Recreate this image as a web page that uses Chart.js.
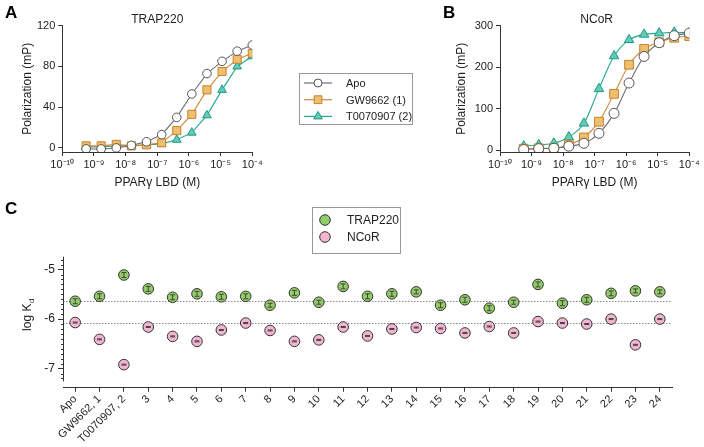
<!DOCTYPE html>
<html>
<head>
<meta charset="utf-8">
<script src="https://cdn.jsdelivr.net/npm/chart.js@4.4.1/dist/chart.umd.min.js"></script>
<style>
  html, body { margin: 0; padding: 0; background: #fff; }
  #wrap { position: relative; width: 704px; height: 447px; overflow: hidden; }
  .panel { position: absolute; }
</style>
</head>
<body>
<div id="wrap">
  <canvas id="chartA" class="panel" width="420" height="200" style="left:0;top:0"></canvas>
  <canvas id="chartB" class="panel" width="284" height="200" style="left:420px;top:0"></canvas>
  <canvas id="chartC" class="panel" width="704" height="252" style="left:0;top:195px"></canvas>
</div>
<script>
// --- data: titration (3-fold dilution of PPARy LBD, molar) ---
const concM = [1e-4, 3.33e-5, 1.11e-5, 3.70e-6, 1.23e-6, 4.12e-7, 1.37e-7, 4.57e-8, 1.52e-8, 5.08e-9, 1.69e-9, 5.65e-10];
const decades = [-10, -9, -8, -7, -6, -5, -4];

// panel A: TRAP220 polarization (mP)
const apoTrap = [101, 95, 85, 73, 53, 30, 13, 6, 2.5, 0, -1, -1];
const gwTrap  = [93, 87, 75, 57, 33, 17, 5, 3, 2, 3.5, 2, 2];
const tTrap   = [90, 80, 57, 32, 15, 8, 4, 3, 2, 2, 1, 1];
const yTicksTrap = [0, 40, 80, 120];

// panel B: NCoR polarization (mP)
const apoNcor = [282, 276, 259, 226, 162, 89, 41, 17, 10, 5, 4, 2];
const gwNcor  = [275, 271, 260, 244, 206, 136, 69, 31, 14, 5, 5, 4];
const tNcor   = [283, 284, 282, 279, 266, 227, 148, 65, 32, 17, 13, 10];
const yTicksNcor = [0, 100, 200, 300];

// panel C: log Kd per compound
const compounds = ['Apo', 'GW9662, 1', 'T0070907, 2', '3', '4', '5', '6', '7', '8', '9', '10', '11', '12',
  '13', '14', '15', '16', '17', '18', '19', '20', '21', '22', '23', '24'];
const trapKd  = [-5.64, -5.54, -5.11, -5.39, -5.56, -5.49, -5.55, -5.54, -5.72, -5.47, -5.66, -5.34, -5.54,
  -5.49, -5.45, -5.72, -5.61, -5.78, -5.66, -5.30, -5.68, -5.61, -5.48, -5.43, -5.45];
const ncorKd  = [-6.07, -6.41, -6.92, -6.16, -6.35, -6.45, -6.22, -6.08, -6.23, -6.45, -6.42, -6.16, -6.34,
  -6.20, -6.17, -6.19, -6.28, -6.15, -6.28, -6.05, -6.08, -6.10, -6.00, -6.52, -6.00];
const trapErr = [0.05, 0.05, 0.05, 0.05, 0.05, 0.05, 0.05, 0.05, 0.04, 0.05, 0.04, 0.05, 0.05,
  0.05, 0.04, 0.05, 0.05, 0.05, 0.04, 0.05, 0.05, 0.05, 0.05, 0.04, 0.04];
const ncorErr = [0.01, 0.01, 0.01, 0.01, 0.01, 0.01, 0.01, 0.01, 0.01, 0.01, 0.01, 0.01, 0.01,
  0.01, 0.01, 0.01, 0.01, 0.01, 0.01, 0.01, 0.01, 0.01, 0.01, 0.01, 0.01];
const kdTicks = [-7, -6, -5];

// --- look ---
const FONT = "'Liberation Sans', Arial, Helvetica, sans-serif";
const INK = '#222';
const AXIS = '#333';
Chart.defaults.font.family = FONT;
Chart.defaults.color = INK;
Chart.defaults.animation = false;

const series = {
  apo: { label: 'Apo', style: 'circle', line: '#707070', fill: '#ffffff', edge: '#555555' },
  gw:  { label: 'GW9662 (1)', style: 'rect', line: '#d08a3e', fill: '#efbe6e', edge: '#c5832f' },
  t:   { label: 'T0070907 (2)', style: 'triangle', line: '#22a890', fill: '#62ccb6', edge: '#1b9a83' }
};
const kdColors = {
  trap: { label: 'TRAP220', fill: '#92cc66' },
  ncor: { label: 'NCoR', fill: '#f3b6d2' }
};

const SUP = { '-': '\u207B', '0': '\u2070', '1': '\u00B9', '2': '\u00B2', '3': '\u00B3', '4': '\u2074',
  '5': '\u2075', '6': '\u2076', '7': '\u2077', '8': '\u2078', '9': '\u2079' };
const pow10Label = v => '10' + String(Math.round(Math.log10(v))).split('').map(c => SUP[c]).join('');

// marker used by the hand-drawn legends
function marker(ctx, style, x, y, r, fill, edge) {
  ctx.beginPath();
  if (style === 'rect') {
    const h = r * Math.SQRT1_2;
    ctx.rect(x - h, y - h, 2 * h, 2 * h);
  } else if (style === 'triangle') {
    ctx.moveTo(x, y - r);
    ctx.lineTo(x + r * 0.866, y + r * 0.5);
    ctx.lineTo(x - r * 0.866, y + r * 0.5);
    ctx.closePath();
  } else {
    ctx.arc(x, y, r, 0, Math.PI * 2);
  }
  ctx.fillStyle = fill;
  ctx.fill();
  ctx.strokeStyle = edge;
  ctx.lineWidth = 1;
  ctx.stroke();
}

// panel letter, panel title and optional legend box
const panelDecor = {
  id: 'panelDecor',
  afterDraw(chart, args, o) {
    const ctx = chart.ctx;
    const a = chart.chartArea;
    ctx.save();
    ctx.textBaseline = 'middle';
    if (o.letter) {
      ctx.font = 'bold 17px ' + FONT;
      ctx.fillStyle = '#000';
      ctx.textAlign = 'left';
      ctx.fillText(o.letter, o.letterX, o.letterY);
    }
    if (o.title) {
      ctx.font = '12px ' + FONT;
      ctx.fillStyle = INK;
      ctx.textAlign = 'center';
      ctx.fillText(o.title, (a.left + a.right) / 2 + (o.titleDx || 0), o.titleY);
    }
    if (o.legend) {
      const L = o.legend;
      ctx.strokeStyle = '#999';
      ctx.lineWidth = 1;
      ctx.strokeRect(L.x + 0.5, L.y + 0.5, L.w, L.h);
      ctx.font = L.font + 'px ' + FONT;
      ctx.textAlign = 'left';
      L.items.forEach((it, i) => {
        const y = L.y0 + i * L.dy;
        if (it.line) {
          ctx.beginPath();
          ctx.moveTo(L.lx0, y);
          ctx.lineTo(L.lx1, y);
          ctx.strokeStyle = it.line;
          ctx.lineWidth = 1.2;
          ctx.stroke();
        }
        marker(ctx, it.style, L.mx, y, it.r, it.fill, it.edge);
        ctx.fillStyle = INK;
        ctx.fillText(it.label, L.tx, y + 1);
      });
    }
    ctx.restore();
  }
};

function curve(s, ys, r, tension) {
  return {
    label: s.label,
    data: concM.map((x, i) => ({ x: x, y: ys[i] })),
    showLine: true,
    fill: false,
    borderColor: s.line,
    borderWidth: 1.1,
    backgroundColor: s.fill,
    pointStyle: s.style,
    pointRadius: r,
    pointBackgroundColor: s.fill,
    pointBorderColor: s.edge,
    pointBorderWidth: 1,
    tension: tension,
    cubicInterpolationMode: tension > 0 ? 'monotone' : 'default'
  };
}

function titrationScales(yMin, yMax, yTicks, yWidth, yTitlePad) {
  return {
    x: {
      type: 'logarithmic', min: 1e-10, max: 1e-4,
      afterBuildTicks: s => { s.ticks = decades.map(e => ({ value: Math.pow(10, e) })); },
      afterFit: s => { s.height = 48; },
      ticks: { callback: v => pow10Label(v), autoSkip: false, maxRotation: 0, padding: 2, font: { size: 11 }, color: INK },
      grid: { drawOnChartArea: false, tickLength: 4, tickColor: AXIS },
      border: { color: AXIS, width: 1 },
      title: { display: true, text: 'PPAR\u03B3 LBD (M)', font: { size: 12 }, color: INK, padding: { top: 0, bottom: 10 } }
    },
    y: {
      min: yMin, max: yMax,
      afterBuildTicks: s => { s.ticks = yTicks.map(v => ({ value: v })); },
      afterFit: s => { s.width = yWidth; },
      ticks: { padding: 3, font: { size: 11 }, color: INK },
      grid: { drawOnChartArea: false, tickLength: 4, tickColor: AXIS },
      border: { color: AXIS, width: 1 },
      title: { display: true, text: 'Polarization (mP)', font: { size: 12 }, color: INK, padding: { top: yTitlePad, bottom: 0 } }
    }
  };
}

// --- A: TRAP220 ---
new Chart(document.getElementById('chartA'), {
  type: 'scatter',
  data: {
    datasets: [
      curve(series.apo, apoTrap, 4.3, 0),
      curve(series.gw, gwTrap, 5.7, 0),
      curve(series.t, tTrap, 5, 0)
    ]
  },
  options: {
    responsive: false,
    layout: { padding: { left: 0, top: 25.7, right: 167.7, bottom: 0 } },
    scales: titrationScales(-4, 120, yTicksTrap, 62.3, 20.8),
    plugins: {
      legend: { display: false },
      tooltip: { enabled: false },
      panelDecor: {
        letter: 'A', letterX: 5, letterY: 13,
        title: 'TRAP220', titleY: 20,
        legend: {
          x: 299, y: 73, w: 113, h: 51, y0: 83, dy: 16.7, lx0: 304, lx1: 332, mx: 318, tx: 346, font: 11,
          items: [
            { label: series.apo.label, style: 'circle', r: 4, line: series.apo.line, fill: series.apo.fill, edge: series.apo.edge },
            { label: series.gw.label, style: 'rect', r: 5.5, line: series.gw.line, fill: series.gw.fill, edge: series.gw.edge },
            { label: series.t.label, style: 'triangle', r: 5, line: series.t.line, fill: series.t.fill, edge: series.t.edge }
          ]
        }
      }
    }
  },
  plugins: [panelDecor]
});

// --- B: NCoR ---
new Chart(document.getElementById('chartB'), {
  type: 'scatter',
  data: {
    datasets: [
      curve(series.apo, apoNcor, 5, 0.4),
      curve(series.gw, gwNcor, 6.2, 0.4),
      curve(series.t, tNcor, 5.5, 0.4)
    ]
  },
  options: {
    responsive: false,
    layout: { padding: { left: 0, top: 25.7, right: 14.7, bottom: 0 } },
    scales: titrationScales(-4, 300, yTicksNcor, 80, 34.5),
    plugins: {
      legend: { display: false },
      tooltip: { enabled: false },
      panelDecor: { letter: 'B', letterX: 23, letterY: 13, title: 'NCoR', titleY: 20, titleDx: 2 }
    }
  },
  plugins: [panelDecor]
});

// --- C: log Kd summary ---
const kdExtras = {
  id: 'kdExtras',
  beforeDatasetsDraw(chart) {
    const ctx = chart.ctx, a = chart.chartArea, y = chart.scales.y;
    ctx.save();
    ctx.strokeStyle = '#8a8a8a';
    ctx.lineWidth = 1;
    ctx.setLineDash([1.5, 1.5]);
    [trapKd[0], ncorKd[0]].forEach(v => {
      const py = Math.round(y.getPixelForValue(v)) + 0.5;
      ctx.beginPath();
      ctx.moveTo(a.left, py);
      ctx.lineTo(a.right, py);
      ctx.stroke();
    });
    ctx.restore();
  },
  afterDatasetsDraw(chart) {
    const ctx = chart.ctx, y = chart.scales.y;
    ctx.save();
    ctx.strokeStyle = '#444';
    ctx.lineWidth = 1;
    [trapErr, ncorErr].forEach((errs, di) => {
      const meta = chart.getDatasetMeta(di);
      const vals = chart.data.datasets[di].data;
      meta.data.forEach((pt, i) => {
        const y0 = y.getPixelForValue(vals[i] + errs[i]);
        const y1 = y.getPixelForValue(vals[i] - errs[i]);
        ctx.beginPath();
        ctx.moveTo(pt.x, y0); ctx.lineTo(pt.x, y1);
        ctx.moveTo(pt.x - 2.5, y0); ctx.lineTo(pt.x + 2.5, y0);
        ctx.moveTo(pt.x - 2.5, y1); ctx.lineTo(pt.x + 2.5, y1);
        ctx.stroke();
      });
    });
    ctx.restore();
  },
  afterDraw(chart) {
    const ctx = chart.ctx, a = chart.chartArea, y = chart.scales.y;
    ctx.save();
    // y axis line (stops short of the x axis) with minor ticks every 0.1
    const x = Math.round(a.left) + 0.5;
    ctx.strokeStyle = AXIS;
    ctx.lineWidth = 1;
    ctx.beginPath();
    ctx.moveTo(x, y.getPixelForValue(-4.74));
    ctx.lineTo(x, y.getPixelForValue(-7.26));
    for (let k = -72; k <= -48; k++) {
      if (k % 10 === 0) continue;
      const py = Math.round(y.getPixelForValue(k / 10)) + 0.5;
      ctx.moveTo(x, py);
      ctx.lineTo(x - 2.5, py);
    }
    ctx.stroke();
    // axis title log K_d
    ctx.translate(28, 120);
    ctx.rotate(-Math.PI / 2);
    ctx.fillStyle = INK;
    ctx.textBaseline = 'middle';
    ctx.textAlign = 'left';
    ctx.font = '12px ' + FONT;
    const main = 'log K';
    const w = ctx.measureText(main).width;
    ctx.font = '8px ' + FONT;
    const ws = ctx.measureText('d').width;
    const start = -(w + ws) / 2;
    ctx.font = '12px ' + FONT;
    ctx.fillText(main, start, 0);
    ctx.font = '8px ' + FONT;
    ctx.fillText('d', start + w + 0.5, 4);
    ctx.restore();
  }
};

function kdSet(c, vals) {
  return {
    label: c.label,
    data: vals,
    showLine: false,
    pointStyle: 'circle',
    pointRadius: 5.3,
    pointBackgroundColor: c.fill,
    pointBorderColor: '#333',
    pointBorderWidth: 1,
    backgroundColor: c.fill
  };
}

new Chart(document.getElementById('chartC'), {
  type: 'line',
  data: {
    labels: compounds,
    datasets: [kdSet(kdColors.trap, trapKd), kdSet(kdColors.ncor, ncorKd)]
  },
  options: {
    responsive: false,
    layout: { padding: { left: 0, top: 61.7, right: 32, bottom: 0 } },
    scales: {
      x: {
        offset: true,
        afterFit: s => { s.height = 59.3; },
        ticks: { autoSkip: false, minRotation: 45, maxRotation: 45, padding: 1, font: { size: 11 }, color: INK },
        grid: { drawOnChartArea: false, tickLength: 4, tickColor: AXIS, offset: false },
        border: { color: AXIS, width: 1 }
      },
      y: {
        min: -7.386, max: -4.74,
        afterBuildTicks: s => { s.ticks = kdTicks.map(v => ({ value: v })); },
        afterFit: s => { s.width = 63; },
        ticks: { padding: 3, font: { size: 12 }, color: INK, callback: v => String(v) },
        grid: { drawOnChartArea: false, tickLength: 5, tickColor: AXIS },
        border: { display: false }
      }
    },
    plugins: {
      legend: { display: false },
      tooltip: { enabled: false },
      panelDecor: {
        letter: 'C', letterX: 5, letterY: 14,
        legend: {
          x: 312, y: 12, w: 88, h: 46, y0: 25, dy: 17, mx: 325, tx: 347, font: 12,
          items: [
            { label: kdColors.trap.label, style: 'circle', r: 5.3, fill: kdColors.trap.fill, edge: '#333' },
            { label: kdColors.ncor.label, style: 'circle', r: 5.3, fill: kdColors.ncor.fill, edge: '#333' }
          ]
        }
      }
    }
  },
  plugins: [panelDecor, kdExtras]
});
</script>
</body>
</html>
